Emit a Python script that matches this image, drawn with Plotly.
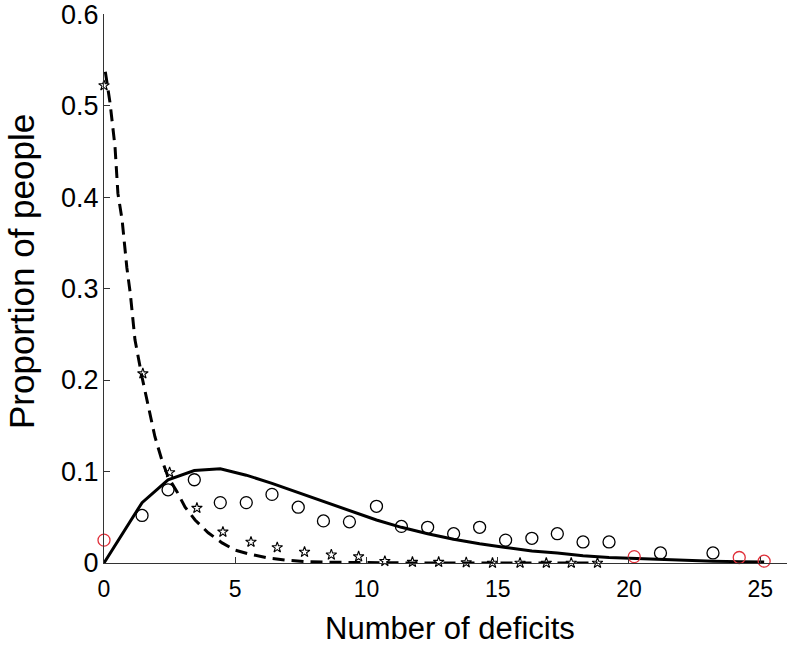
import plotly.graph_objects as go

circle_x = [0, 1.45, 2.44, 3.44, 4.43, 5.42, 6.4, 7.4, 8.36, 9.35, 10.38, 11.33, 12.33,
            13.32, 14.31, 15.3, 16.3, 17.27, 18.25, 19.24, 20.2, 21.2, 22.2, 23.2, 24.2, 25.15]
circle_y = [0.025, 0.052, 0.080, 0.091, 0.066, 0.066, 0.075, 0.061, 0.046, 0.045, 0.062,
            0.040, 0.039, 0.032, 0.039, 0.025, 0.027, 0.032, 0.023, 0.023, 0.007, 0.011,
            -0.001, 0.011, 0.006, 0.002]
red_idx = [0, 20, 22, 24, 25]

# model fit for circles (solid line)
solid_y = [0, 0.066, 0.091, 0.101, 0.103, 0.096, 0.087, 0.077, 0.067, 0.057, 0.047, 0.039,
           0.032, 0.026, 0.021, 0.017, 0.013, 0.011, 0.008, 0.006, 0.005, 0.0035, 0.0025,
           0.002, 0.0015, 0.001]

# second group (stars)
star_x = [0, 1.48, 2.5, 3.54, 4.53, 5.6, 6.6, 7.64, 8.66, 9.7, 10.7, 11.75, 12.75, 13.8,
          14.8, 15.85, 16.85, 17.8, 18.8]
star_y = [0.522, 0.207, 0.099, 0.060, 0.034, 0.023, 0.017, 0.012, 0.009, 0.007, 0.002,
          0.001, 0.001, 0.0005, 0, 0, 0, 0, 0]

# model fit for stars (dashed line)
dash_x = [0.05, 0.23, 0.42, 0.53, 0.69, 0.87, 1.0, 1.18, 1.45, 1.68, 1.94, 2.2, 2.44, 2.78,
          3.09, 3.47, 3.97, 4.5, 5.0, 5.5, 6.26, 7.0, 7.73, 8.7, 10, 12, 18.8]
dash_y = [0.537, 0.503, 0.455, 0.404, 0.375, 0.323, 0.295, 0.244, 0.203, 0.171, 0.138,
          0.113, 0.094, 0.078, 0.061, 0.047, 0.033, 0.022, 0.014, 0.010, 0.0055, 0.003,
          0.0015, 0.0008, 0.0003, 0, 0]

x_ticks = [0, 5, 10, 15, 20, 25]
y_ticks = [0, 0.1, 0.2, 0.3, 0.4, 0.5, 0.6]

FONT = "Liberation Sans, Arial, Helvetica, sans-serif"
RED = "#e0303a"

circle_colors = [RED if i in red_idx else "black" for i in range(len(circle_x))]

fig = go.Figure()

fig.add_trace(go.Scatter(x=dash_x, y=dash_y, mode="lines",
                         line=dict(color="black", width=3, dash="12px,7px"),
                         cliponaxis=False, showlegend=False))
fig.add_trace(go.Scatter(x=circle_x, y=solid_y, mode="lines",
                         line=dict(color="black", width=3),
                         cliponaxis=False, showlegend=False))
fig.add_trace(go.Scatter(x=star_x, y=star_y, mode="markers",
                         marker=dict(symbol="star-open", size=8, color="black",
                                     line=dict(width=1.1, color="black")),
                         cliponaxis=False, showlegend=False))
fig.add_trace(go.Scatter(x=circle_x, y=circle_y, mode="markers",
                         marker=dict(symbol="circle-open", size=12, color=circle_colors,
                                     line=dict(width=1.3, color=circle_colors)),
                         cliponaxis=False, showlegend=False))

fig.update_xaxes(range=[0, 26.02], tickvals=x_ticks, ticks="inside", ticklen=6,
                 tickcolor="#333", showline=True, linecolor="#333", linewidth=1,
                 showgrid=False, zeroline=False, automargin=False,
                 ticklabelstandoff=5,
                 tickfont=dict(family=FONT, size=23, color="black"))
fig.update_yaxes(range=[0, 0.6001], tickvals=y_ticks, ticktext=[str(v) for v in y_ticks],
                 ticks="inside", ticklen=6, tickcolor="#333", showline=True,
                 linecolor="#333", linewidth=1, showgrid=False, zeroline=False,
                 automargin=False, ticklabeloverflow="allow", ticklabelstandoff=-1,
                 tickfont=dict(family=FONT, size=27, color="black"))

fig.add_annotation(text="Number of deficits", xref="paper", yref="paper",
                   x=0.5066, y=-0.1202, xanchor="center", yanchor="middle",
                   showarrow=False, font=dict(family=FONT, size=31, color="black"))
fig.add_annotation(text="Proportion of people", xref="paper", yref="paper",
                   x=-0.1215, y=0.53, xanchor="center", yanchor="middle", textangle=-90,
                   showarrow=False, font=dict(family=FONT, size=35, color="black"))

fig.update_layout(width=787, height=648, plot_bgcolor="white", paper_bgcolor="white",
                  margin=dict(l=104, r=0, t=14, b=85))

# drop the page's default body margin so the figure fills the window
fig.write_html("out.html", config={"displayModeBar": False},
               post_script="document.body.style.margin = '0';")
